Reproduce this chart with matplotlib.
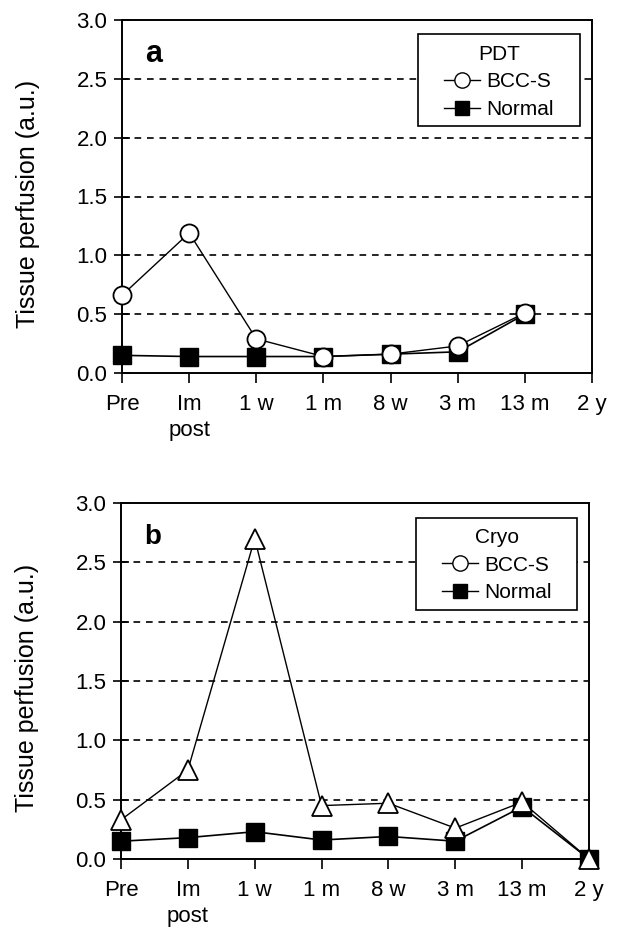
import matplotlib
matplotlib.use("Agg")
import matplotlib.pyplot as plt
from matplotlib.lines import Line2D
from matplotlib.patches import Rectangle

plt.rcParams['font.family'] = ['Liberation Sans', 'DejaVu Sans']

time_labels = ['Pre', 'Im\npost', '1 w', '1 m', '8 w', '3 m', '13 m', '2 y']

# panel a: PDT
pdt_bcc = [0.66, 1.19, 0.29, 0.14, 0.16, 0.23, 0.51]
pdt_normal = [0.15, 0.14, 0.14, 0.14, 0.16, 0.18, 0.50]

# panel b: Cryo
cryo_bcc = [0.33, 0.75, 2.70, 0.45, 0.47, 0.26, 0.48, 0.0]
cryo_normal = [0.15, 0.18, 0.23, 0.16, 0.19, 0.15, 0.44, 0.0]

fig = plt.figure(figsize=(6.24, 9.34), dpi=100)
W, H = 624, 934
ax_a = fig.add_axes([122 / W, 1 - 373 / H, 470 / W, 353 / H])
ax_b = fig.add_axes([121 / W, 1 - 859 / H, 468 / W, 356 / H])


def style(ax, letter, title, letter_size):
    ax.set_xlim(0, 7)
    ax.set_ylim(0, 3.0)
    ax.set_yticks([0, 0.5, 1.0, 1.5, 2.0, 2.5, 3.0])
    ax.set_yticklabels(['0.0', '0.5', '1.0', '1.5', '2.0', '2.5', '3.0'])
    ax.set_xticks(range(8))
    ax.set_xticklabels(time_labels, va='top', linespacing=1.3)
    ax.tick_params(axis='y', labelsize=16, width=1.2, length=11, direction='inout', pad=5)
    ax.tick_params(axis='x', labelsize=16, width=1.2, length=7, direction='out', pad=8)
    for y in [0.5, 1.0, 1.5, 2.0, 2.5]:
        ax.axhline(y, color='black', lw=1.2, ls=(0, (4, 3.5)), zorder=0)
    for sp in ax.spines.values():
        sp.set_linewidth(1.4)
    ax.set_ylabel('Tissue perfusion (a.u.)', fontsize=18)
    ax.yaxis.set_label_coords(-0.175, 0.48)
    ax.text(0.05, 0.905, letter, transform=ax.transAxes, fontsize=letter_size,
            fontweight='bold', va='center')
    ax.add_patch(Rectangle((0.630, 0.700), 0.344, 0.259, transform=ax.transAxes,
                           facecolor='white', edgecolor='black', lw=1.2, zorder=5))
    handles = [
        Line2D([], [], color='black', lw=1, marker='o', mfc='white', mec='black', ms=11),
        Line2D([], [], color='black', lw=1, marker='s', mfc='black', mec='black', ms=10),
    ]
    leg = ax.legend(handles, ['BCC-S', 'Normal'], title=title, loc='upper left',
                    bbox_to_anchor=(0.685, 0.93), fontsize=15, title_fontsize=15,
                    frameon=False, handlelength=1.75, handletextpad=0.3,
                    borderpad=0, borderaxespad=0, labelspacing=0.42)
    leg.set_zorder(6)


x_a = list(range(len(pdt_bcc)))
ax_a.plot(x_a, pdt_normal, color='black', lw=1.2, marker='s', ms=12.5,
          mfc='black', mec='black', clip_on=False, zorder=3)
ax_a.plot(x_a, pdt_bcc, color='black', lw=1.0, marker='o', ms=13,
          mfc='white', mec='black', mew=1.3, clip_on=False, zorder=4)
style(ax_a, 'a', 'PDT', 22)

x_b = list(range(len(cryo_bcc)))
ax_b.plot(x_b, cryo_normal, color='black', lw=1.2, marker='s', ms=12.5,
          mfc='black', mec='black', clip_on=False, zorder=3)
ax_b.plot(x_b, cryo_bcc, color='black', lw=1.0, marker='^', ms=14,
          mfc='white', mec='black', mew=1.3, clip_on=False, zorder=4)
style(ax_b, 'b', 'Cryo', 20)

fig.savefig('out.png', dpi=100)
